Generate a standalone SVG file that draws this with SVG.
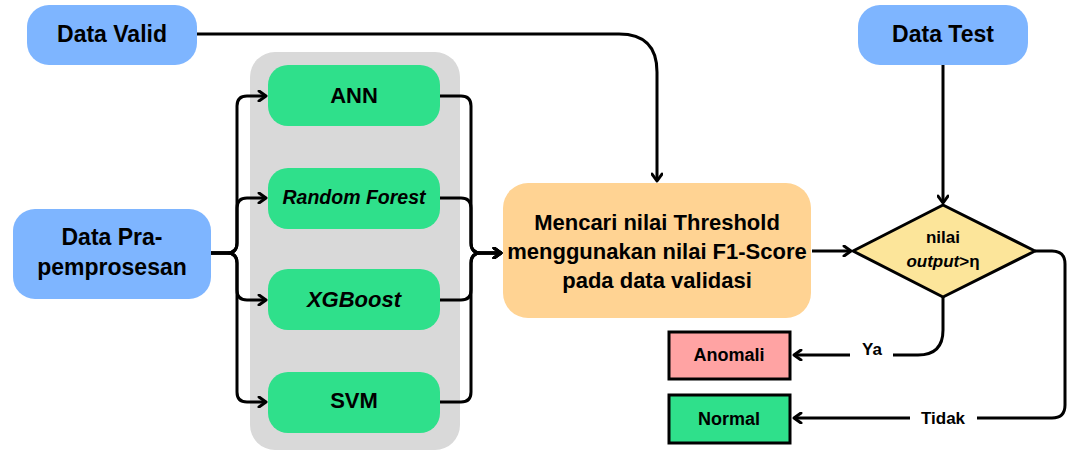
<svg xmlns="http://www.w3.org/2000/svg" width="1078" height="461" viewBox="0 0 1078 461">
<defs>
<style>
.t{font-family:"Liberation Sans",Arial,sans-serif;font-weight:bold;fill:#000;text-anchor:middle}
.i{font-style:italic}
.blue{fill:#7EB5FF}
.green{fill:#2FE08B}
.ln{fill:none;stroke:#000;stroke-width:3;stroke-linejoin:round}
.arr{marker-end:url(#ah)}
</style>
<marker id="ah" viewBox="0 0 12 12" refX="10" refY="6" markerWidth="12" markerHeight="12" orient="auto" markerUnits="userSpaceOnUse">
<path d="M3,1 L10,6 L3,11" fill="none" stroke="#000" stroke-width="3" stroke-linecap="round" stroke-linejoin="round"/>
</marker>
</defs>
<rect x="0" y="0" width="1078" height="461" fill="#fff"/>
<g id="panel"><rect x="250" y="52" width="210" height="398" rx="25" fill="#D9D9D9"/></g>
<g id="connectors">
<path class="ln arr" d="M197,34 H619 Q657,34 657,72 V181"/>
<path class="ln arr" d="M943,64 V203"/>
<path class="ln arr" d="M211,253 H227 Q237,253 237,243 V106 Q237,96 247,96 H266"/>
<path class="ln arr" d="M211,253 H227 Q237,253 237,243 V208 Q237,198 247,198 H266"/>
<path class="ln arr" d="M211,253 H227 Q237,253 237,263 V290 Q237,300 247,300 H266"/>
<path class="ln arr" d="M211,253 H227 Q237,253 237,263 V392 Q237,402 247,402 H266"/>
<path class="ln arr" d="M440,96 H461 Q471,96 471,106 V243 Q471,253 481,253 H501"/>
<path class="ln arr" d="M440,198 H461 Q471,198 471,208 V243 Q471,253 481,253 H501"/>
<path class="ln arr" d="M440,300 H461 Q471,300 471,290 V263 Q471,253 481,253 H501"/>
<path class="ln arr" d="M440,402 H461 Q471,402 471,392 V263 Q471,253 481,253 H501"/>
<path class="ln arr" d="M812,251 H851"/>
<path class="ln" d="M943,297 V330 Q943,355 918,355 H893"/>
<path class="ln arr" d="M850,355 H794"/>
<path class="ln" d="M1035,251 H1052 Q1065,251 1065,264 V405 Q1065,418 1052,418 H977"/>
<path class="ln arr" d="M910,418 H794"/>
<text class="t" x="872" y="355" font-size="17">Ya</text>
<text class="t" x="943" y="424" font-size="17">Tidak</text>
</g>
<g id="data-valid"><rect class="blue" x="27" y="5" width="170" height="60" rx="22"/><text class="t" x="112" y="42" font-size="23">Data Valid</text></g>
<g id="data-test"><rect class="blue" x="858" y="5" width="170" height="60" rx="22"/><text class="t" x="943" y="42" font-size="23">Data Test</text></g>
<g id="data-pra"><rect class="blue" x="13" y="209" width="198" height="90" rx="22"/><text class="t" x="112" y="245" font-size="23">Data Pra-</text><text class="t" x="112" y="275" font-size="23">pemprosesan</text></g>
<g id="ann"><rect class="green" x="268" y="65" width="172" height="61" rx="20"/><text class="t" x="354" y="103" font-size="22">ANN</text></g>
<g id="rf"><rect class="green" x="268" y="168" width="172" height="61" rx="20"/><text class="t i" x="354" y="204" font-size="19.5">Random Forest</text></g>
<g id="xgb"><rect class="green" x="268" y="269" width="172" height="61" rx="20"/><text class="t i" x="354" y="307" font-size="22">XGBoost</text></g>
<g id="svm"><rect class="green" x="268" y="372" width="172" height="61" rx="20"/><text class="t" x="354" y="408" font-size="22">SVM</text></g>
<g id="threshold"><rect x="503" y="183" width="308" height="135" rx="25" fill="#FFD393"/>
<text class="t" x="657" y="230" font-size="22">Mencari nilai Threshold</text>
<text class="t" x="657" y="259" font-size="22">menggunakan nilai F1-Score</text>
<text class="t" x="657" y="288" font-size="22">pada data validasi</text></g>
<g id="decision"><polygon points="853,251 943,205 1035,251 943,297" fill="#FCE59A" stroke="#000" stroke-width="3" stroke-linejoin="round"/>
<text class="t" x="943" y="243" font-size="17">nilai</text>
<text class="t" x="943" y="267" font-size="17"><tspan class="i">output</tspan>&gt;η</text></g>
<g id="anomali"><rect x="669" y="332" width="121" height="47" fill="#FFA3A3" stroke="#000" stroke-width="3"/><text class="t" x="729" y="361" font-size="18">Anomali</text></g>
<g id="normal"><rect x="669" y="395" width="121" height="48" fill="#2FE08B" stroke="#000" stroke-width="3"/><text class="t" x="729" y="425" font-size="18">Normal</text></g>
</svg>
